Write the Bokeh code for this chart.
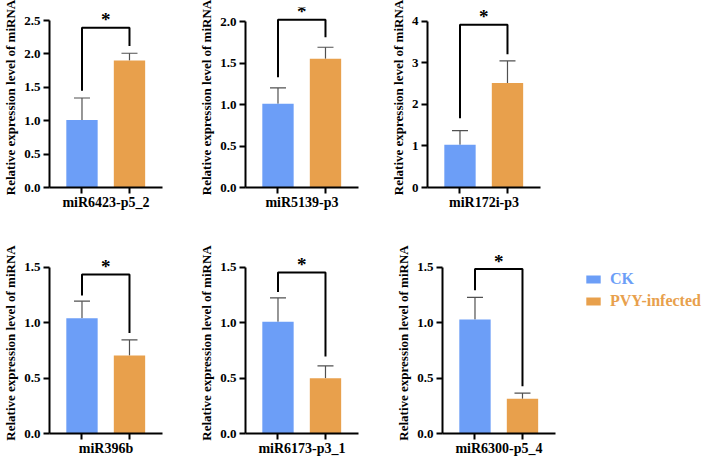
from bokeh.plotting import figure
from bokeh.layouts import column, row
from bokeh.models import (Range1d, FixedTicker, Whisker, TeeHead, ColumnDataSource,
                          Legend, LegendItem)
from bokeh.core.properties import value
from bokeh.embed import file_html
from bokeh.resources import INLINE

# ---------------- data ----------------
mirnas = ["miR6423-p5_2", "miR5139-p3", "miR172i-p3", "miR396b", "miR6173-p3_1", "miR6300-p5_4"]
groups = ["CK", "PVY-infected"]
ck_mean = [1.01, 1.01, 1.03, 1.04, 1.01, 1.03]
ck_err = [0.33, 0.19, 0.34, 0.155, 0.215, 0.20]
pvy_mean = [1.90, 1.55, 2.52, 0.705, 0.50, 0.315]
pvy_err = [0.11, 0.14, 0.53, 0.14, 0.11, 0.05]
y_tick_max = [2.5, 2.0, 4.0, 1.5, 1.5, 1.5]
y_tick_step = [0.5, 0.5, 1.0, 0.5, 0.5, 0.5]
# significance brackets: top, left leg bottom, right leg bottom
br_top = [2.39, 2.02, 3.92, 1.436, 1.455, 1.485]
br_left = [1.45, 1.33, 1.67, 1.246, 1.279, 1.294]
br_right = [2.12, 1.81, 3.21, 0.907, 0.695, 0.426]
sig = ["*", "*", "*", "*", "*", "*"]

BLUE = "#6C9EF7"
ORANGE = "#E8A04C"
FONT = "Liberation Serif"

# y-range upper ends so the tick max lands where it does in the picture
top_ext = [2.695, 2.169, 4.337, 1.635, 1.635, 1.635]


def fmt(v, step):
    return ("%d" % v) if step >= 1 else ("%.1f" % v)


def panel(i, left, right, top, fh, bottom_border, fw=113):
    ymax = y_tick_max[i]
    p = figure(frame_width=fw, frame_height=fh, output_backend="svg", toolbar_location=None,
               min_border_left=left, min_border_right=right, min_border_top=top,
               min_border_bottom=bottom_border)
    p.x_range = Range1d(-0.684, 1.695)
    p.y_range = Range1d(0, top_ext[i])
    p.outline_line_color = None
    p.grid.visible = False
    p.background_fill_color = None
    p.border_fill_color = None

    src = ColumnDataSource(dict(x=[0, 1], top=[ck_mean[i], pvy_mean[i]],
                                up=[ck_mean[i] + ck_err[i], pvy_mean[i] + pvy_err[i]],
                                color=[BLUE, ORANGE]))
    p.vbar(x="x", top="top", width=0.66, bottom=0, source=src, fill_color="color",
           line_color=None)
    w = Whisker(base="x", lower="top", upper="up", source=src, line_color="#505050",
                line_width=1.2, upper_head=TeeHead(size=16, line_color="#505050", line_width=1.2),
                lower_head=None, level="underlay")
    p.add_layout(w)
    # bracket
    p.line([0, 0, 1, 1], [br_left[i], br_top[i], br_top[i], br_right[i]],
           line_color="black", line_width=2)
    p.text([0.5], [br_top[i]], text=[sig[i]], text_align="center", text_baseline="alphabetic",
           y_offset=-8, text_font=value(FONT), text_font_style="bold", text_font_size="19px",
           text_color="black")

    n = int(round(ymax / y_tick_step[i]))
    ticks = [k * y_tick_step[i] for k in range(n + 1)]
    p.yaxis.ticker = FixedTicker(ticks=ticks)
    p.yaxis.major_label_overrides = {t: fmt(t, y_tick_step[i]) for t in ticks}
    p.yaxis.bounds = (0, ymax)
    p.yaxis.axis_label = "Relative expression level of miRNA"
    p.xaxis.ticker = FixedTicker(ticks=[0, 1])
    p.xaxis.major_label_overrides = {0: "", 1: ""}
    p.xaxis.major_label_text_font_size = "0px"
    p.xaxis.major_label_standoff = 0
    p.xaxis.axis_label = mirnas[i]
    p.xaxis.axis_label_standoff = 1
    for ax in (p.xaxis[0], p.yaxis[0]):
        ax.axis_line_width = 2
        ax.axis_line_color = "black"
        ax.major_tick_line_width = 2
        ax.major_tick_line_color = "black"
        ax.major_tick_out = 6
        ax.major_tick_in = 0
        ax.minor_tick_line_color = None
        ax.axis_label_text_font = FONT
        ax.axis_label_text_font_style = "bold"
        ax.axis_label_text_color = "black"
        ax.major_label_text_font = FONT
        ax.major_label_text_font_style = "bold"
        ax.major_label_text_color = "black"
    p.xaxis.axis_label_text_font_size = "14px"
    p.yaxis.axis_label_text_font_size = "13px"
    p.yaxis.major_label_text_font_size = "13px"
    p.yaxis.major_label_standoff = 3
    p.yaxis.axis_label_standoff = 3
    return p


f1 = panel(0, 43, 34, 7, 180, 43)
f2 = panel(1, 46, 26, 7, 180, 43)
f3 = panel(2, 43, 34, 7, 180, 43)
f4 = panel(3, 43, 34, 22, 181, 28)
f5 = panel(4, 49, 33, 22, 181, 28)
f6 = panel(5, 51, 20, 22, 181, 28)

# legend figure (its renderers are hidden; only the legend shows)
lg = figure(frame_width=139, frame_height=231, output_backend="svg", toolbar_location=None,
            min_border=0, x_range=Range1d(0, 1), y_range=Range1d(0, 1))
lg.axis.visible = False
lg.grid.visible = False
lg.outline_line_color = None
lg.background_fill_color = None
lg.border_fill_color = None
r_ck = lg.vbar(x=[0.5], bottom=[0.2], top=[0.4], width=0.5, fill_color=BLUE, line_color=None)
r_pvy = lg.vbar(x=[0.5], bottom=[0.2], top=[0.4], width=0.5, fill_color=ORANGE, line_color=None)
r_ck.visible = False
r_pvy.visible = False
for r, name, col, loc in [(r_ck, groups[0], BLUE, (9, 173)), (r_pvy, groups[1], ORANGE, (9, 151))]:
    L = Legend(items=[LegendItem(label=name, renderers=[r])], location=loc,
               glyph_width=18, glyph_height=10, label_height=14, label_standoff=8,
               padding=0, margin=0, spacing=0, border_line_color=None,
               background_fill_alpha=0, inactive_fill_alpha=0,
               label_text_font=FONT, label_text_font_style="bold",
               label_text_font_size="16px", label_text_color=col, label_text_baseline="middle")
    lg.add_layout(L, "center")

layout = column(row(f1, f2, f3, spacing=0), row(f4, f5, f6, lg, spacing=0), spacing=0)
open("out.html", "w").write(file_html(layout, INLINE))
